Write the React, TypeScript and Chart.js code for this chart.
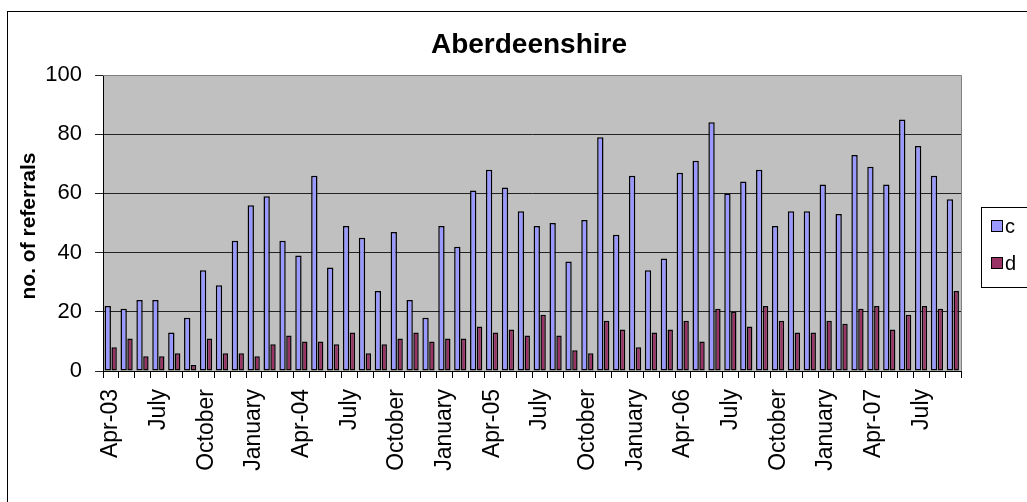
import React, { useEffect, useRef } from "react";
import { Chart, registerables } from "chart.js";

Chart.register(...registerables);

const chartTitle = "Aberdeenshire";
const yAxisTitle = "no. of referrals";

const categories = [
  "Apr-03", "May", "June", "July", "August", "September", "October", "November", "December", "January", "February", "March",
  "Apr-04", "May", "June", "July", "August", "September", "October", "November", "December", "January", "February", "March",
  "Apr-05", "May", "June", "July", "August", "September", "October", "November", "December", "January", "February", "March",
  "Apr-06", "May", "June", "July", "August", "September", "October", "November", "December", "January", "February", "March",
  "Apr-07", "May", "June", "July", "August", "September",
];

const seriesNames = ["c", "d"];

const seriesC = [
  22, 21, 24, 24, 13, 18, 34, 29, 44, 56, 59, 44,
  39, 66, 35, 49, 45, 27, 47, 24, 18, 49, 42, 61,
  68, 62, 54, 49, 50, 37, 51, 79, 46, 66, 34, 38,
  67, 71, 84, 60, 64, 68, 49, 54, 54, 63, 53, 73,
  69, 63, 85, 76, 66, 58,
];

const seriesD = [
  8, 11, 5, 5, 6, 2, 11, 6, 6, 5, 9, 12,
  10, 10, 9, 13, 6, 9, 11, 13, 10, 11, 11, 15,
  13, 14, 12, 19, 12, 7, 6, 17, 14, 8, 13, 14,
  17, 10, 21, 20, 15, 22, 17, 13, 13, 17, 16, 21,
  22, 14, 19, 22, 21, 27,
];

const yMin = 0;
const yMax = 100;
const yStep = 20;
const labelEvery = 3;

const FONT = "'Liberation Sans', Arial, sans-serif";

const decorPlugin = {
  id: "excelDecor",
  beforeDraw(chart: any) {
    const { ctx, chartArea } = chart;
    ctx.save();
    ctx.fillStyle = "#ffffff";
    ctx.fillRect(0, 0, chart.width, chart.height);
    ctx.strokeStyle = "#000000";
    ctx.lineWidth = 1;
    ctx.strokeRect(7.5, 11.5, chart.width + 40, chart.height + 40);
    ctx.fillStyle = "#c0c0c0";
    ctx.fillRect(chartArea.left, chartArea.top, chartArea.right - chartArea.left, chartArea.bottom - chartArea.top);
    ctx.restore();
  },
  afterDraw(chart: any) {
    const { ctx, chartArea } = chart;
    ctx.save();
    ctx.strokeStyle = "#808080";
    ctx.lineWidth = 1;
    ctx.beginPath();
    ctx.moveTo(chartArea.left, Math.round(chartArea.top) + 0.5);
    ctx.lineTo(Math.round(chartArea.right) + 0.5, Math.round(chartArea.top) + 0.5);
    ctx.lineTo(Math.round(chartArea.right) + 0.5, chartArea.bottom);
    ctx.stroke();

    ctx.fillStyle = "#000000";
    ctx.font = `bold 28px ${FONT}`;
    ctx.textAlign = "center";
    ctx.textBaseline = "alphabetic";
    ctx.fillText(chartTitle, 529, 53);

    ctx.save();
    ctx.translate(35, 226);
    ctx.rotate(-Math.PI / 2);
    ctx.font = `bold 21px ${FONT}`;
    ctx.textAlign = "center";
    ctx.textBaseline = "alphabetic";
    ctx.fillText(yAxisTitle, 0, 0);
    ctx.restore();

    const lx = 981.5;
    const ly = 207.5;
    ctx.fillStyle = "#ffffff";
    ctx.fillRect(lx, ly, 80, 80);
    ctx.strokeStyle = "#000000";
    ctx.lineWidth = 1;
    ctx.strokeRect(lx, ly, 80, 80);
    const ds = chart.data.datasets;
    const rowY = [226, 263];
    ds.forEach((d: any, i: number) => {
      ctx.fillStyle = d.backgroundColor;
      ctx.fillRect(992, rowY[i] - 5, 10, 10);
      ctx.strokeStyle = "#000000";
      ctx.strokeRect(991.5, rowY[i] - 5.5, 11, 11);
      ctx.fillStyle = "#000000";
      ctx.font = `20px ${FONT}`;
      ctx.textAlign = "left";
      ctx.textBaseline = "middle";
      ctx.fillText(d.label, 1005, rowY[i] + 1);
    });
    ctx.restore();
  },
};

export default function App() {
  const canvasRef = useRef<HTMLCanvasElement | null>(null);

  useEffect(() => {
    if (!canvasRef.current) return;
    const chart = new Chart(canvasRef.current, {
      type: "bar",
      data: {
        labels: categories,
        datasets: [
          {
            label: seriesNames[0],
            data: seriesC,
            backgroundColor: "#9999ff",
            borderColor: "#000000",
            borderWidth: 1.5,
            borderSkipped: false,
            barPercentage: 1.0,
            categoryPercentage: 0.8,
          },
          {
            label: seriesNames[1],
            data: seriesD,
            backgroundColor: "#993366",
            borderColor: "#000000",
            borderWidth: 1.5,
            borderSkipped: false,
            barPercentage: 0.85,
            categoryPercentage: 0.8,
          },
        ],
      },
      options: {
        responsive: false,
        animation: false,
        devicePixelRatio: 1,
        layout: { padding: { left: 0, right: 66, top: 75, bottom: 0 } },
        plugins: {
          legend: { display: false },
          title: { display: false },
          tooltip: { enabled: false },
        },
        scales: {
          x: {
            offset: true,
            grid: {
              offset: true,
              drawOnChartArea: false,
              drawTicks: true,
              tickLength: 7,
              color: "#000000",
            },
            border: { display: true, color: "#000000", width: 1 },
            ticks: {
              autoSkip: false,
              minRotation: 90,
              maxRotation: 90,
              padding: 11,
              color: "#000000",
              font: { family: FONT, size: 23 },
              callback: (_v: any, i: number) => (i % labelEvery === 0 ? categories[i] : ""),
            },
            afterFit: (s: any) => {
              s.height = 131;
            },
          },
          y: {
            min: yMin,
            max: yMax,
            grid: {
              color: "#222222",
              tickLength: 8,
              drawTicks: true,
            },
            border: { display: true, color: "#000000", width: 1 },
            ticks: {
              stepSize: yStep,
              padding: 13,
              color: "#000000",
              font: { family: FONT, size: 22 },
            },
            afterFit: (s: any) => {
              s.width = 103;
            },
          },
        },
      },
      plugins: [decorPlugin],
    });
    return () => chart.destroy();
  }, []);

  return (
    <div style={{ position: "fixed", left: 0, top: 0, width: 1027, height: 502, overflow: "hidden", background: "#fff" }}>
      <canvas ref={canvasRef} width={1027} height={502} style={{ display: "block", width: 1027, height: 502 }} />
    </div>
  );
}
